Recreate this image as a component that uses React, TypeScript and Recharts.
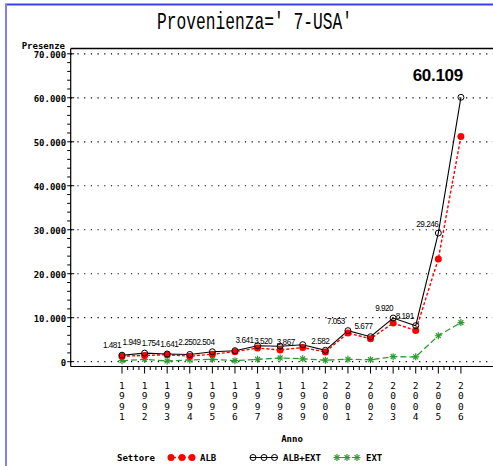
import { LineChart, Line, XAxis, YAxis, ReferenceLine, LabelList } from 'recharts'

const YEARS = [1991, 1992, 1993, 1994, 1995, 1996, 1997, 1998, 1999, 2000, 2001, 2002, 2003, 2004, 2005, 2006]
const ALB_EXT = [1481, 1949, 1754, 1641, 2250, 2504, 3641, 3520, 3867, 2582, 7053, 5677, 9920, 8191, 29246, 60109]
const ALB = [1250, 1410, 1590, 1250, 1710, 2270, 3100, 2680, 3220, 2230, 6500, 5230, 8780, 7100, 23350, 51200]
const EXT = [230, 540, 160, 390, 540, 230, 540, 840, 650, 350, 550, 450, 1140, 1100, 5900, 8900]
const Y_MAJOR = [0, 10000, 20000, 30000, 40000, 50000, 60000, 70000]

// label placement (offset of the label's right end / centre from its point)
const LABEL_DX = [-1, -4, -7.5, -11.5, -16, -20.5, -4, -8, -8, 4, -3, 2, 0, -2, 0, 2]
const LABEL_DY = [-10, -11, -10, -10, -9, -8, -5, -5, -2, -9, -9, -10, -10, -9, -9, -22]

const W = 493
const H = 466
const MONO = '"DejaVu Sans Mono", monospace'
const SANS = '"Liberation Sans", Arial, sans-serif'
const RED = '#ff0000'
const GREEN = '#2e9a2e'

const data = YEARS.map((year, i) => ({ year, alb: ALB[i], tot: ALB_EXT[i], ext: EXT[i] }))

const yTicks: number[] = []
for (let v = 0; v <= 70000; v += 2000) yTicks.push(v)
const xTicks: number[] = []
for (let i = 0; i <= (YEARS[YEARS.length - 1] - YEARS[0]) * 4; i++) xTicks.push(YEARS[0] + i * 0.25)

const fmt = (v: number) => {
  if (v < 1000) return String(v)
  const r = v % 1000
  return `${Math.floor(v / 1000)}.${String(r).padStart(3, '0')}`
}

// eslint-disable-next-line @typescript-eslint/no-explicit-any
function YTick({ x, y, payload }: any) {
  const v = payload.value as number
  const major = v % 10000 === 0
  return (
    <g>
      <line x1={x - 3.5} x2={major ? x + 3.5 : x} y1={y} y2={y} stroke="#000" strokeWidth={1} />
      {major && (
        <text x={x - 4.5} y={y + 1.5} textAnchor="end" dominantBaseline="central"
          fontFamily={MONO} fontWeight="bold" fontSize={9} fill="#000">{fmt(v)}</text>
      )}
    </g>
  )
}

// eslint-disable-next-line @typescript-eslint/no-explicit-any
function XTick({ x, y, payload }: any) {
  const v = payload.value as number
  const major = Number.isInteger(v)
  return (
    <g>
      <line x1={x} x2={x} y1={y} y2={y + (major ? 7 : 3.5)} stroke="#000" strokeWidth={1} />
      {major && String(v).split('').map((d, i) => (
        <text key={i} x={x} y={y + 18.5 + i * 10.6} textAnchor="middle" dominantBaseline="central"
          fontFamily={MONO} fontSize={9.5} fill="#000">{d}</text>
      ))}
    </g>
  )
}

// eslint-disable-next-line @typescript-eslint/no-explicit-any
const OpenDot = (p: any) => <circle key={p.index} cx={p.cx} cy={p.cy} r={3} fill="none" stroke="#000" strokeWidth={1} />
// eslint-disable-next-line @typescript-eslint/no-explicit-any
const RedDot = (p: any) => <circle key={p.index} cx={p.cx} cy={p.cy} r={3.5} fill={RED} stroke="none" />
// eslint-disable-next-line @typescript-eslint/no-explicit-any
const Star = (p: any) => <StarShape key={p.index} cx={p.cx} cy={p.cy} />

function StarShape({ cx, cy }: { cx: number; cy: number }) {
  const s = 3.5
  return (
    <g stroke={GREEN} strokeWidth={1.2}>
      <line x1={cx - s} x2={cx + s} y1={cy} y2={cy} />
      <line x1={cx} x2={cx} y1={cy - s} y2={cy + s} />
      <line x1={cx - s * 0.7} x2={cx + s * 0.7} y1={cy - s * 0.7} y2={cy + s * 0.7} />
      <line x1={cx - s * 0.7} x2={cx + s * 0.7} y1={cy + s * 0.7} y2={cy - s * 0.7} />
    </g>
  )
}

// eslint-disable-next-line @typescript-eslint/no-explicit-any
function PointLabel({ x, y, value, index }: any) {
  const last = index === ALB_EXT.length - 1
  return (
    <text x={x + LABEL_DX[index]} y={y + LABEL_DY[index]} textAnchor="end" dominantBaseline="central"
      fontFamily={SANS} fontSize={last ? 17 : 8.2} letterSpacing={last ? -0.3 : -0.5}
      fontWeight={last ? 'bold' : 'normal'} fill="#000">
      {fmt(value)}
    </text>
  )
}

function Overlay() {
  const legendY = 457.5
  return (
    <svg width={W} height={H} style={{ position: 'absolute', left: 0, top: 0, pointerEvents: 'none' }}>
      <line x1={5} x2={W} y1={4.5} y2={4.5} stroke="#3c3cf0" strokeWidth={2} />
      <line x1={6} x2={6} y1={4} y2={H} stroke="#8080ff" strokeWidth={2} />
      <text x={254.5} y={28.5} textAnchor="middle" fontFamily='"Liberation Mono", monospace' fontSize={23}
        textLength={195} lengthAdjust="spacingAndGlyphs" fill="#000">Provenienza=' 7-USA'</text>
      <text x={65} y={45.5} textAnchor="end" dominantBaseline="central" fontFamily={MONO}
        fontWeight="bold" fontSize={9} fill="#000">Presenze</text>
      <text x={292} y={439} textAnchor="middle" dominantBaseline="central" fontFamily={MONO}
        fontWeight="bold" fontSize={9} fill="#000">Anno</text>
      <text x={117} y={legendY} dominantBaseline="central" fontFamily={MONO}
        fontWeight="bold" fontSize={9} fill="#000">Settore</text>

      <line x1={168} x2={195} y1={legendY} y2={legendY} stroke={RED} strokeDasharray="3 2" strokeWidth={1.3} />
      {[171, 182, 192].map((cx) => <circle key={cx} cx={cx} cy={legendY} r={3.5} fill={RED} />)}
      <text x={200} y={legendY} dominantBaseline="central" fontFamily={MONO} fontWeight="bold" fontSize={9}>ALB</text>

      <line x1={250} x2={278} y1={legendY} y2={legendY} stroke="#000" strokeWidth={1} />
      {[253, 264, 274.5].map((cx) => <circle key={cx} cx={cx} cy={legendY} r={3} fill="none" stroke="#000" />)}
      <text x={283} y={legendY} dominantBaseline="central" fontFamily={MONO} fontWeight="bold" fontSize={9}>ALB+EXT</text>

      <line x1={334} x2={360} y1={legendY} y2={legendY} stroke={GREEN} strokeDasharray="4 2" strokeWidth={1.2} />
      {[337, 347, 357].map((cx) => <StarShape key={cx} cx={cx} cy={legendY} />)}
      <text x={366} y={legendY} dominantBaseline="central" fontFamily={MONO} fontWeight="bold" fontSize={9}>EXT</text>
    </svg>
  )
}

export default function App() {
  return (
    <div style={{ position: 'absolute', left: 0, top: 0, width: W, height: H, background: '#fff' }}>
      <LineChart width={W} height={H} data={data} margin={{ top: 48.5, right: 0, left: 0, bottom: 0 }}>
        <XAxis dataKey="year" type="number" domain={[1988.73, 2007.42]} ticks={xTicks} interval={0}
          height={H - 366.5} tickSize={0} tickMargin={0} tickLine={false} tick={<XTick />}
          axisLine={{ stroke: '#000', strokeWidth: 1.2 }} allowDataOverflow />
        <YAxis type="number" domain={[-1093, 71207]} ticks={yTicks} interval={0} width={70.7}
          tickSize={0} tickMargin={0} tickLine={false} tick={<YTick />}
          axisLine={{ stroke: '#000', strokeWidth: 1.2 }} allowDataOverflow />
        {Y_MAJOR.map((v) => (
          <ReferenceLine key={v} y={v} stroke="#000" strokeWidth={1.2} strokeDasharray="1.2 5.5" />
        ))}
        <ReferenceLine y={71207} stroke="#000" strokeWidth={1.5} />
        <Line dataKey="ext" stroke={GREEN} strokeWidth={1.3} strokeDasharray="6 3" dot={Star}
          activeDot={false} isAnimationActive={false} />
        <Line dataKey="alb" stroke={RED} strokeWidth={1.4} strokeDasharray="3 2" dot={RedDot}
          activeDot={false} isAnimationActive={false} />
        <Line dataKey="tot" stroke="#000" strokeWidth={1.1} dot={OpenDot} activeDot={false}
          isAnimationActive={false}>
          <LabelList dataKey="tot" content={<PointLabel />} />
        </Line>
      </LineChart>
      <Overlay />
    </div>
  )
}
